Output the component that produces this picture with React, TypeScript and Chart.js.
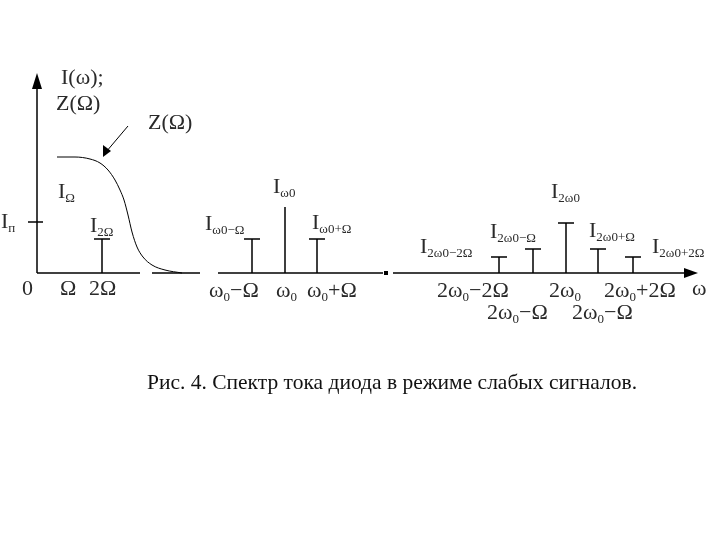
import React, { useEffect, useRef } from "react";
import { Chart, registerables } from "chart.js";

Chart.register(...registerables);

// Spectral line positions (diagram units along ω, origin at the ordinate axis)
const stemLabels = ["2Ω", "ω0−Ω", "ω0", "ω0+Ω", "2ω0−2Ω", "2ω0−Ω", "2ω0", "2ω0+Ω", "2ω0+2Ω"];
const stemX = [65, 215, 248, 280, 462, 496, 529, 561, 596];
const stemH = [34, 34, 66, 34, 16, 24, 50, 24, 16];
const stemBar = [true, true, false, true, true, true, true, true, true];

// Z(Ω) curve
const zX = [20, 38, 53, 63, 71, 78, 83, 87, 91, 95, 100, 106, 115, 128, 145];
const zY = [116, 116, 114, 110, 103, 93, 83, 73, 58, 41, 26, 16, 8, 3, 0];

// Quiescent current level I_п
const iPLevel = 51;

// Broken abscissa segments
const axisSegStart = [0, 115, 181, 356];
const axisSegEnd = [103, 163, 346, 661];

const caption = "Рис. 4. Спектр тока диода в режиме слабых сигналов.";

const MAIN = '22px "Liberation Serif", "Times New Roman", serif';
const SUB = '13px "Liberation Serif", "Times New Roman", serif';
const TEXT = "#2a2a2a";

type Part = [string, boolean];

function rich(ctx: CanvasRenderingContext2D, x: number, y: number, parts: Part[]) {
  let cx = x;
  ctx.textAlign = "left";
  ctx.textBaseline = "alphabetic";
  for (const [t, sub] of parts) {
    ctx.font = sub ? SUB : MAIN;
    ctx.fillText(t, cx, sub ? y + 4 : y);
    cx += ctx.measureText(t).width;
  }
}

const overlay = {
  id: "overlay",
  beforeDatasetsDraw(chart: any) {
    const ctx: CanvasRenderingContext2D = chart.ctx;
    const xs = chart.scales.x;
    const ys = chart.scales.y;
    const px = (v: number) => xs.getPixelForValue(v);
    const py = (v: number) => ys.getPixelForValue(v);
    ctx.save();
    ctx.strokeStyle = "#000";
    ctx.fillStyle = "#000";
    ctx.lineWidth = 1.5;
    // ordinate axis
    ctx.beginPath();
    ctx.moveTo(px(0), py(0));
    ctx.lineTo(px(0), py(188));
    ctx.stroke();
    ctx.beginPath();
    ctx.moveTo(px(0), py(200));
    ctx.lineTo(px(0) - 5, py(184));
    ctx.lineTo(px(0) + 5, py(184));
    ctx.closePath();
    ctx.fill();
    // abscissa (broken)
    for (let i = 0; i < axisSegStart.length; i++) {
      ctx.beginPath();
      ctx.moveTo(px(axisSegStart[i]), py(0));
      ctx.lineTo(px(axisSegEnd[i]) - (i === axisSegStart.length - 1 ? 10 : 0), py(0));
      ctx.stroke();
    }
    ctx.beginPath();
    ctx.moveTo(px(661), py(0));
    ctx.lineTo(px(661) - 14, py(0) - 5);
    ctx.lineTo(px(661) - 14, py(0) + 5);
    ctx.closePath();
    ctx.fill();
    ctx.fillRect(px(346) + 1, py(0) - 2, 4, 4);
    // I_п tick
    ctx.beginPath();
    ctx.moveTo(px(-9), py(iPLevel));
    ctx.lineTo(px(6), py(iPLevel));
    ctx.stroke();
    // arrow to Z(Ω)
    ctx.lineWidth = 1;
    ctx.beginPath();
    ctx.moveTo(128, 126);
    ctx.lineTo(106, 152);
    ctx.stroke();
    ctx.beginPath();
    ctx.moveTo(103, 157);
    ctx.lineTo(103, 145);
    ctx.lineTo(111, 151);
    ctx.closePath();
    ctx.fill();
    ctx.restore();
  },
  afterDraw(chart: any) {
    const ctx: CanvasRenderingContext2D = chart.ctx;
    ctx.save();
    ctx.fillStyle = TEXT;
    rich(ctx, 61, 84, [["I(ω);", false]]);
    rich(ctx, 56, 110, [["Z(Ω)", false]]);
    rich(ctx, 148, 129, [["Z(Ω)", false]]);
    rich(ctx, 58, 198, [["I", false], ["Ω", true]]);
    rich(ctx, 1, 228, [["I", false], ["п", true]]);
    rich(ctx, 90, 232, [["I", false], ["2Ω", true]]);
    rich(ctx, 273, 193, [["I", false], ["ω0", true]]);
    rich(ctx, 205, 230, [["I", false], ["ω0−Ω", true]]);
    rich(ctx, 312, 229, [["I", false], ["ω0+Ω", true]]);
    rich(ctx, 551, 198, [["I", false], ["2ω0", true]]);
    rich(ctx, 490, 238, [["I", false], ["2ω0−Ω", true]]);
    rich(ctx, 589, 237, [["I", false], ["2ω0+Ω", true]]);
    rich(ctx, 420, 253, [["I", false], ["2ω0−2Ω", true]]);
    rich(ctx, 652, 253, [["I", false], ["2ω0+2Ω", true]]);
    // abscissa labels
    rich(ctx, 22, 295, [["0", false]]);
    rich(ctx, 60, 295, [["Ω", false]]);
    rich(ctx, 89, 295, [["2Ω", false]]);
    rich(ctx, 209, 297, [["ω", false], ["0", true], ["−Ω", false]]);
    rich(ctx, 276, 297, [["ω", false], ["0", true]]);
    rich(ctx, 307, 297, [["ω", false], ["0", true], ["+Ω", false]]);
    rich(ctx, 437, 297, [["2ω", false], ["0", true], ["−2Ω", false]]);
    rich(ctx, 549, 297, [["2ω", false], ["0", true]]);
    rich(ctx, 604, 297, [["2ω", false], ["0", true], ["+2Ω", false]]);
    rich(ctx, 692, 295, [["ω", false]]);
    rich(ctx, 487, 319, [["2ω", false], ["0", true], ["−Ω", false]]);
    rich(ctx, 572, 319, [["2ω", false], ["0", true], ["−Ω", false]]);
    // caption
    ctx.font = '21.5px "Liberation Serif", "Times New Roman", serif';
    ctx.fillStyle = "#111";
    ctx.textAlign = "center";
    ctx.fillText(caption, 392, 389);
    ctx.restore();
  },
};

export default function App() {
  const ref = useRef<HTMLCanvasElement>(null);
  useEffect(() => {
    document.body.style.margin = "0";
    const stems: any[] = [];
    const bars: any[] = [];
    stemX.forEach((x, i) => {
      stems.push({ x, y: 0 }, { x, y: stemH[i] }, { x, y: null });
      if (stemBar[i]) bars.push({ x: x - 8, y: stemH[i] }, { x: x + 8, y: stemH[i] }, { x, y: null });
    });
    const chart = new Chart(ref.current as HTMLCanvasElement, {
      type: "scatter",
      data: {
        datasets: [
          {
            label: "Z(Ω)",
            data: zX.map((x, i) => ({ x, y: zY[i] })),
            showLine: true,
            borderColor: "#000",
            borderWidth: 1,
            pointRadius: 0,
            tension: 0.4,
            cubicInterpolationMode: "monotone",
          },
          {
            label: "stems",
            data: stems,
            showLine: true,
            spanGaps: false,
            borderColor: "#000",
            borderWidth: 1.5,
            pointRadius: 0,
          },
          {
            label: "bars",
            data: bars,
            showLine: true,
            spanGaps: false,
            borderColor: "#000",
            borderWidth: 1.5,
            pointRadius: 0,
          },
        ],
      } as any,
      options: {
        animation: false,
        responsive: false,
        maintainAspectRatio: false,
        layout: { padding: 0 },
        plugins: { legend: { display: false }, tooltip: { enabled: false } },
        scales: {
          x: { type: "linear", min: -37, max: 683, display: false },
          y: { type: "linear", min: -267, max: 273, display: false },
        },
      } as any,
      plugins: [overlay],
    });
    return () => chart.destroy();
  }, []);
  return (
    <div style={{ position: "absolute", left: 0, top: 0, width: 720, height: 540, background: "#fff" }}>
      <canvas ref={ref} width={720} height={540} />
    </div>
  );
}
